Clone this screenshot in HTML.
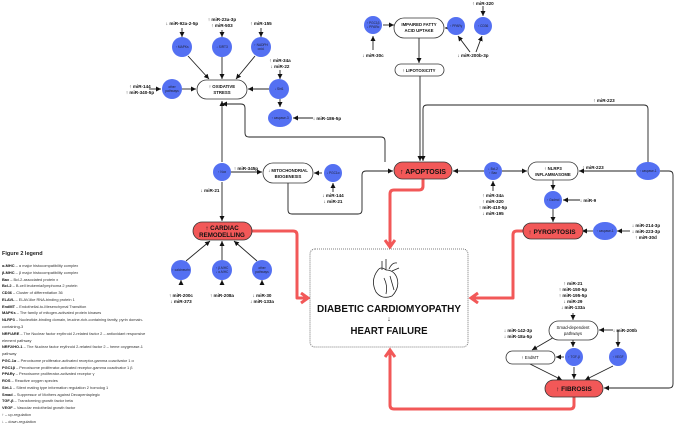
<!DOCTYPE html>
<html><head><meta charset="utf-8"><style>
html,body{margin:0;padding:0;background:#fff}
svg{display:block;font-family:"Liberation Sans",sans-serif}
.l{font-size:4.6px;font-weight:bold;fill:#111}
.c{font-size:3.2px;fill:#223}
.p{font-size:4.3px;font-weight:bold;fill:#111}
.lg{font-size:3.9px;fill:#333}
.lg tspan.b{font-weight:bold;fill:#111}
</style></head><body>
<svg width="677" height="425" viewBox="0 0 677 425" xmlns="http://www.w3.org/2000/svg">
<defs>
<marker id="a" markerWidth="6" markerHeight="6" refX="5" refY="3" orient="auto" markerUnits="userSpaceOnUse"><path d="M0,0.5 L5,3 L0,5.5z" fill="#111"/></marker>
<marker id="r" markerWidth="14" markerHeight="14" refX="8" refY="6" orient="auto" markerUnits="userSpaceOnUse"><path d="M1,1 L8,6 L1,11" fill="none" stroke="#f25858" stroke-width="3"/></marker>
</defs>

<g fill="none" stroke="#f25858" stroke-width="3" stroke-linejoin="round">
<path d="M252,231 H293 Q297,231 297,235 V298 H308" marker-end="url(#r)"/>
<path d="M423,179 V186 Q423,190 419,190 H394 Q390,190 390,194 V247" marker-end="url(#r)"/>
<path d="M523,231 H517 Q513,231 513,235 V298 H471" marker-end="url(#r)"/>
<path d="M574,397 V405 Q574,409 570,409 H394 Q390,409 390,405 V350" marker-end="url(#r)"/>
</g>

<g fill="none" stroke="#222" stroke-width="0.9" marker-end="url(#a)">
<path d="M182,28 V37"/><path d="M222,30 V37"/><path d="M261,28 V37"/>
<path d="M188,56 L209,79"/><path d="M222,57 V79"/><path d="M255,56 L236,79"/>
<path d="M182,89 H196"/><path d="M149,89 H161"/>
<path d="M269,89 H248"/><path d="M280,70 V79"/><path d="M280,99 V107"/>
<path d="M313,118 H293"/>
<path d="M222,162 V101"/>
<path d="M385,162 V141 Q385,137 381,137 H249 Q245,137 245,133 V108 Q245,104 241,104 H222"/>
<path d="M231,172 H262"/>
<path d="M222,182 V221"/>
<path d="M322,173 H314"/>
<path d="M333,192 V183"/>
<path d="M288,183 V210 Q288,214 292,214 H358 Q362,214 362,210 V175 Q362,171 366,171 H393"/>
<path d="M419,38 V63"/>
<path d="M420,76 V161"/>
<path d="M383,25 H394"/>
<path d="M373,50 V36"/>
<path d="M483,6 V16"/>
<path d="M470,52 L458,36"/><path d="M476,52 L482,36"/>
<path d="M484,171 H453"/><path d="M502,171 H527"/>
<path d="M493,191 V181"/>
<path d="M636,171 H579"/>
<path d="M648,162 V109 Q648,105 644,105 H427 Q423,105 423,109 V161"/>
<path d="M553,180 V190"/><path d="M553,209 V222"/>
<path d="M580,200 H563"/>
<path d="M593,231 H582"/>
<path d="M630,231 H617"/>
<path d="M660,171 H669 Q673,171 673,175 V384 Q673,388 669,388 H604"/>
<path d="M181,285 V280"/><path d="M222,285 V280"/><path d="M262,285 V280"/>
<path d="M186,261 L210,241"/><path d="M222,261 V241"/><path d="M257,261 L234,241"/>
<path d="M573,313 V320"/>
<path d="M613,330 H599"/>
<path d="M618,330 V347"/>
<path d="M573,340 V347"/>
<path d="M564,357 H556"/>
<path d="M556,336 L532,350"/>
<path d="M530,364 L562,380"/>
<path d="M574,367 V379"/>
<path d="M613,366 L585,380"/>
</g>
<path d="M445,28 H453" stroke="#222" stroke-width="0.9"/>
<path d="M448,28 H445" stroke="#222" stroke-width="0.9" marker-end="url(#a)"/>

<g fill="#fff" stroke="#333" stroke-width="0.8">
<rect x="197" y="80" width="50" height="19" rx="9.5"/>
<rect x="263" y="163" width="50" height="20" rx="10"/>
<rect x="394" y="18" width="50" height="20" rx="10"/>
<rect x="395" y="64" width="49" height="12" rx="6"/>
<rect x="528" y="162" width="50" height="18" rx="9"/>
<rect x="549" y="321" width="49" height="19" rx="9.5"/>
<rect x="506" y="351" width="49" height="13" rx="6.5"/>
<rect x="310" y="249" width="158" height="98" rx="5" stroke-dasharray="1,1" stroke="#555"/>
</g>
<g fill="#f25858" stroke="#333" stroke-width="0.8">
<rect x="394" y="162" width="58" height="17" rx="8.5"/>
<rect x="193" y="222" width="59" height="18" rx="9"/>
<rect x="523" y="223" width="60" height="16" rx="8"/>
<rect x="545" y="380" width="58" height="17" rx="8.5"/>
</g>

<g fill="#5470f2">
<circle cx="182" cy="47" r="10"/><circle cx="222" cy="47" r="10"/><circle cx="261" cy="47" r="10"/>
<circle cx="172" cy="89" r="10"/><circle cx="279" cy="89" r="10"/>
<ellipse cx="280" cy="118" rx="12" ry="9"/>
<circle cx="222" cy="172" r="9"/><circle cx="333" cy="173" r="9"/>
<circle cx="373" cy="25" r="9"/><circle cx="456" cy="26" r="9"/><circle cx="483" cy="26" r="9"/>
<ellipse cx="493" cy="171" rx="9" ry="9"/>
<ellipse cx="648" cy="171" rx="12" ry="9"/>
<circle cx="553" cy="200" r="9"/>
<ellipse cx="605" cy="231" rx="12" ry="9"/>
<circle cx="181" cy="270" r="10"/><circle cx="222" cy="270" r="10"/><circle cx="262" cy="270" r="10"/>
<circle cx="574" cy="357" r="9"/><circle cx="618" cy="357" r="9"/>
</g>
<g class="c" text-anchor="middle">
<text x="182" y="48">↑ MAPKs</text><text x="222" y="48">↓ SIRT3</text>
<text x="261" y="46">↑ NADPH</text><text x="261" y="50">oxid.</text>
<text x="172" y="88">other</text><text x="172" y="92">pathways</text>
<text x="279" y="90">↓ Sirt1</text><text x="280" y="119">↑ caspase-3</text>
<text x="222" y="173">↑ Nox</text><text x="333" y="174">↓ PGC1α</text>
<text x="373" y="24">↑ PGC1β</text><text x="373" y="28">↓ PPARα</text>
<text x="456" y="27">↑ PPARγ</text><text x="483" y="27">↑ CD36</text>
<text x="493" y="170">↓ Bcl-2</text><text x="493" y="174">↑ Bax</text>
<text x="648" y="172">↑ caspase-1</text><text x="553" y="201">↑ Gsdmd</text>
<text x="605" y="232">↑ caspase-1</text>
<text x="181" y="271">↑ calcineurin</text>
<text x="222" y="269">↑ β-MHC</text><text x="222" y="273">↓ α-MHC</text>
<text x="262" y="269">other</text><text x="262" y="273">pathways</text>
<text x="574" y="358">↑ TGF-β</text><text x="618" y="358">↑ VEGF</text>
</g>

<g class="p" text-anchor="middle">
<text x="222" y="88">↑ OXIDATIVE</text><text x="222" y="94">STRESS</text>
<text x="288" y="172">↓ MITOCHONDRIAL</text><text x="288" y="178">BIOGENESIS</text>
<text x="419" y="26">IMPAIRED FATTY</text><text x="419" y="32">ACID UPTAKE</text>
<text x="419" y="72">↑ LIPOTOXICITY</text>
<text x="553" y="170">↑ NLRP3</text><text x="553" y="176">INFLAMMASOME</text>
<text x="573" y="329" font-weight="normal">Smad-dependent</text><text x="573" y="335" font-weight="normal">pathways</text>
<text x="530" y="359" font-weight="normal">↑ EndMT</text>
</g>
<g text-anchor="middle" font-weight="bold" fill="#111">
<text x="423" y="174" font-size="7">↑ APOPTOSIS</text>
<text x="222" y="230" font-size="6.2">↑ CARDIAC</text><text x="222" y="237" font-size="6.2">REMODELLING</text>
<text x="552" y="234" font-size="6.5">↑ PYROPTOSIS</text>
<text x="574" y="391" font-size="6.5">↑ FIBROSIS</text>
<text x="389" y="312" font-size="10" textLength="144" lengthAdjust="spacingAndGlyphs">DIABETIC CARDIOMYOPATHY</text>
<text x="389" y="321" font-size="7" font-weight="normal">↓</text>
<text x="389" y="334" font-size="10" textLength="77" lengthAdjust="spacingAndGlyphs">HEART FAILURE</text>
</g>

<g fill="none" stroke="#222" stroke-width="0.8">
<path d="M378,270 Q370,280 376,292 Q382,300 392,296 Q400,288 397,278 Q394,270 386,270 Q381,266 378,270z"/>
<path d="M382,270 V261 M386,270 V259 M389,269 Q392,262 397,263 M392,271 L399,268"/>
<path d="M384,278 Q388,286 386,294 M390,276 L394,290"/>
</g>

<g class="l" text-anchor="middle">
<text x="182" y="25">↓ miR-92a-2-5p</text>
<text x="222" y="21">↑ miR-23a-3p</text><text x="222" y="27">↑ miR-503</text>
<text x="261" y="25">↑ miR-155</text>
<text x="280" y="62">↑ miR-34a</text><text x="280" y="68">↓ miR-22</text>
<text x="140" y="88">↑ miR-144</text><text x="140" y="94">↑ miR-340-5p</text>
<text x="327" y="120">↓ miR-186-5p</text>
<text x="246" y="170">↑ miR-345p</text>
<text x="210" y="192">↓ miR-21</text>
<text x="333" y="197">↓ miR-144</text><text x="333" y="203">↓ miR-21</text>
<text x="373" y="57">↓ miR-30c</text>
<text x="473" y="57">↓ miR-200b-3p</text>
<text x="483" y="5">↑ miR-320</text>
<text x="604" y="102">↑ miR-223</text>
<text x="593" y="169">↑ miR-223</text>
<text x="493" y="197">↑ miR-34a</text><text x="493" y="203">↑ miR-320</text>
<text x="493" y="209">↑ miR-410-5p</text><text x="493" y="215">↓ miR-195</text>
<text x="588" y="202">↓ miR-9</text>
<text x="646" y="227">↓ miR-214-3p</text><text x="646" y="233">↓ miR-223-3p</text><text x="646" y="239">↑ miR-30d</text>
<text x="181" y="297">↑ miR-200c</text><text x="181" y="303">↓ miR-373</text>
<text x="222" y="297">↑ miR-208a</text>
<text x="262" y="297">↓ miR-30</text><text x="262" y="303">↓ miR-133a</text>
<text x="573" y="285">↑ miR-21</text><text x="573" y="291">↑ miR-150-5p</text><text x="573" y="297">↑ miR-195-5p</text>
<text x="573" y="303">↓ miR-29</text><text x="573" y="309">↓ miR-133a</text>
<text x="625" y="332">↓ miR-200b</text>
<text x="518" y="332">↓ miR-142-3p</text><text x="518" y="338">↓ miR-18a-5p</text>
</g>

<text x="2" y="255" font-size="5.5" font-weight="bold" fill="#222">Figure 2 legend</text>
<g class="lg">
<text x="2" y="267"><tspan class="b">α-MHC</tspan> – α major histocompatibility complex</text>
<text x="2" y="274"><tspan class="b">β-MHC</tspan> – β major histocompatibility complex</text>
<text x="2" y="281"><tspan class="b">Bax</tspan> – Bcl-2-associated protein x</text>
<text x="2" y="287"><tspan class="b">Bcl-2</tspan> – B-cell leukemia/lymphoma 2 protein</text>
<text x="2" y="294"><tspan class="b">CD36</tspan> – Cluster of differentiation 36</text>
<text x="2" y="301"><tspan class="b">ELAVL</tspan> – ELAV-like RNA-binding protein 1</text>
<text x="2" y="308"><tspan class="b">EndMT</tspan> – Endothelial-to-Mesenchymal Transition</text>
<text x="2" y="314"><tspan class="b">MAPKs</tspan> – The family of mitogen-activated protein kinases</text>
<text x="2" y="321"><tspan class="b">NLRP3</tspan> – Nucleotide-binding domain, leucine-rich-containing family, pyrin domain-</text>
<text x="2" y="328">containing-3</text>
<text x="2" y="335"><tspan class="b">NRF/ARE</tspan> – The Nuclear factor erythroid 2-related factor 2 – antioxidant responsive</text>
<text x="2" y="342">element pathway</text>
<text x="2" y="348"><tspan class="b">NRF2/HO-1</tspan> – The Nuclear factor erythroid 2-related factor 2 – heme oxygenase-1</text>
<text x="2" y="355">pathway</text>
<text x="2" y="362"><tspan class="b">PGC-1α</tspan> – Peroxisome proliferator-activated receptor-gamma coactivator 1 α</text>
<text x="2" y="369"><tspan class="b">PGC1β</tspan> – Peroxisome proliferator-activated receptor-gamma coactivator 1 β</text>
<text x="2" y="375"><tspan class="b">PPARγ</tspan> – Peroxisome proliferator-activated receptor γ</text>
<text x="2" y="382"><tspan class="b">ROS</tspan> – Reactive oxygen species</text>
<text x="2" y="389"><tspan class="b">Sirt-1</tspan> – Silent mating type information regulation 2 homolog 1</text>
<text x="2" y="396"><tspan class="b">Smad</tspan> – Suppressor of Mothers against Decapentaplegic</text>
<text x="2" y="402"><tspan class="b">TGF-β</tspan> – Transforming growth factor beta</text>
<text x="2" y="409"><tspan class="b">VEGF</tspan> – Vascular endothelial growth factor</text>
<text x="2" y="416"><tspan class="b">↑</tspan> – up-regulation</text>
<text x="2" y="423"><tspan class="b">↓</tspan> – down-regulation</text>
</g>
</svg>
</body></html>
